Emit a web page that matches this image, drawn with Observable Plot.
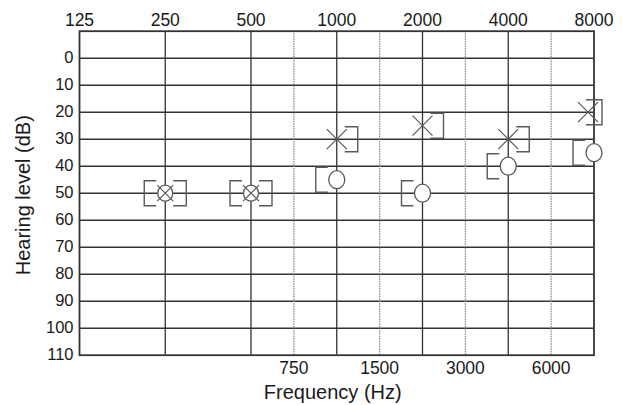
<!DOCTYPE html>
<html>
<head>
<meta charset="utf-8">
<script src="https://cdn.jsdelivr.net/npm/d3@7"></script>
<script src="https://cdn.jsdelivr.net/npm/@observablehq/plot@0.6"></script>
<style>
  html, body { margin: 0; padding: 0; background: #fff; }
  #chart { width: 623px; height: 405px; }
</style>
</head>
<body>
<div id="chart"></div>
<script>
// ---- data ----
const octaveFreqs = [125, 250, 500, 1000, 2000, 4000, 8000];
const midFreqs = [750, 1500, 3000, 6000];
const levels = [0, 10, 20, 30, 40, 50, 60, 70, 80, 90, 100, 110];
const testFreqs = [250, 500, 1000, 2000, 4000, 8000];
const rightAir = [50, 50, 45, 50, 40, 35];        // O
const leftAir = [50, 50, 30, 25, 30, 20];         // X
const rightBoneMasked = [50, 50, 45, 50, 40, 35]; // [
const leftBoneMasked = [50, 50, 30, 25, 30, 20];  // ]

// audiogram position: octaves equally spaced, inter-octave frequencies midway
const pos = f => octaveFreqs.includes(f) ? Math.log2(f / 125) : Math.log2(f / 187.5) + 0.5;

const rows = testFreqs.map((f, i) => ({
  f, rightAir: rightAir[i], leftAir: leftAir[i],
  rb: rightBoneMasked[i], lb: leftBoneMasked[i],
  both: rightAir[i] === leftAir[i]
}));

// custom symbols
const bracketOpen = w => ({ draw(ctx) { const h = 12.5; ctx.moveTo(w, -h); ctx.lineTo(0, -h); ctx.lineTo(0, h); ctx.lineTo(w, h); } });
const bracketClose = w => ({ draw(ctx) { const h = 12.5; ctx.moveTo(-w, -h); ctx.lineTo(0, -h); ctx.lineTo(0, h); ctx.lineTo(-w, h); } });
const cross = s => ({ draw(ctx) { ctx.moveTo(-s, -s); ctx.lineTo(s, s); ctx.moveTo(-s, s); ctx.lineTo(s, -s); } });
const ellipse = (rx, ry) => ({ draw(ctx) {
  const k = 0.5523;
  ctx.moveTo(rx, 0);
  ctx.bezierCurveTo(rx, ry * k, rx * k, ry, 0, ry);
  ctx.bezierCurveTo(-rx * k, ry, -rx, ry * k, -rx, 0);
  ctx.bezierCurveTo(-rx, -ry * k, -rx * k, -ry, 0, -ry);
  ctx.bezierCurveTo(rx * k, -ry, rx, -ry * k, rx, 0);
  ctx.closePath();
} });

const symColor = "#5a5a5a";
const gridColor = "#333";
const textColor = "#1a1a1a";
const font = "Liberation Sans, Arial, sans-serif";

const chart = Plot.plot({
  width: 623,
  height: 405,
  marginLeft: 79,
  marginRight: 29.5,
  marginTop: 30.7,
  marginBottom: 50.3,
  style: { fontFamily: font, background: "#fff", color: textColor },
  x: { domain: [0, 6], axis: null },
  y: { domain: [-10, 110], reverse: true, axis: null },
  marks: [
    // grid
    Plot.ruleY(levels.filter(d => d < 110), { y: d => d, stroke: gridColor, strokeWidth: 1.4 }),
    Plot.ruleX(octaveFreqs.slice(1, -1), { x: pos, stroke: gridColor, strokeWidth: 1.3 }),
    Plot.ruleX(midFreqs, { x: pos, stroke: "#8a8a8a", strokeWidth: 1.3, strokeDasharray: "1.5,1" }),
    Plot.frame({ stroke: gridColor, strokeWidth: 1.8 }),
    // axes labels
    Plot.text(octaveFreqs, { x: pos, text: d => String(d), frameAnchor: "top", lineAnchor: "middle", dy: -11, fontSize: 17.5, fill: textColor }),
    Plot.text(midFreqs, { x: pos, text: d => String(d), frameAnchor: "bottom", lineAnchor: "middle", dy: 13, fontSize: 17.5, fill: textColor }),
    Plot.text(levels, { y: d => d, text: d => String(d), frameAnchor: "left", textAnchor: "end", dx: -6, fontSize: 16.5, fill: textColor }),
    Plot.text(["Hearing level (dB)"], { frameAnchor: "left", textAnchor: "middle", lineAnchor: "middle", dx: -56, dy: 2, rotate: -90, fontSize: 20, fill: textColor }),
    Plot.text(["Frequency (Hz)"], { frameAnchor: "bottom", lineAnchor: "middle", dy: 37, dx: -4, fontSize: 20, fill: textColor }),
    // right masked bone conduction [
    Plot.dot(rows, { x: d => pos(d.f), y: "rb", symbol: bracketOpen(12), r: 10, dx: -21, fill: "none", stroke: symColor, strokeWidth: 1.4 }),
    // left masked bone conduction ]
    Plot.dot(rows.filter(d => d.f < 8000), { x: d => pos(d.f), y: "lb", symbol: bracketClose(13), r: 10, dx: 21, fill: "none", stroke: symColor, strokeWidth: 1.4 }),
    Plot.dot(rows.filter(d => d.f === 8000), { x: d => pos(d.f), y: "lb", symbol: bracketClose(16), r: 10, dx: 8, fill: "none", stroke: symColor, strokeWidth: 1.4 }),
    // right air O
    Plot.dot(rows.filter(d => d.both), { x: d => pos(d.f), y: "rightAir", symbol: ellipse(7.5, 8), r: 8, fill: "#fff", stroke: symColor, strokeWidth: 1.3 }),
    Plot.dot(rows.filter(d => !d.both), { x: d => pos(d.f), y: "rightAir", symbol: ellipse(8, 9), r: 8, fill: "#fff", stroke: symColor, strokeWidth: 1.3 }),
    // left air X
    Plot.dot(rows.filter(d => d.both), { x: d => pos(d.f), y: "leftAir", symbol: cross(8), r: 8, fill: "none", stroke: symColor, strokeWidth: 1.2 }),
    Plot.dot(rows.filter(d => !d.both && d.f < 8000), { x: d => pos(d.f), y: "leftAir", symbol: cross(10), r: 10, fill: "none", stroke: symColor, strokeWidth: 1.2 }),
    Plot.dot(rows.filter(d => d.f === 8000), { x: d => pos(d.f), y: "leftAir", symbol: cross(10), r: 10, dx: -6, fill: "none", stroke: symColor, strokeWidth: 1.2 })
  ]
});
document.getElementById("chart").appendChild(chart);
</script>
</body>
</html>
